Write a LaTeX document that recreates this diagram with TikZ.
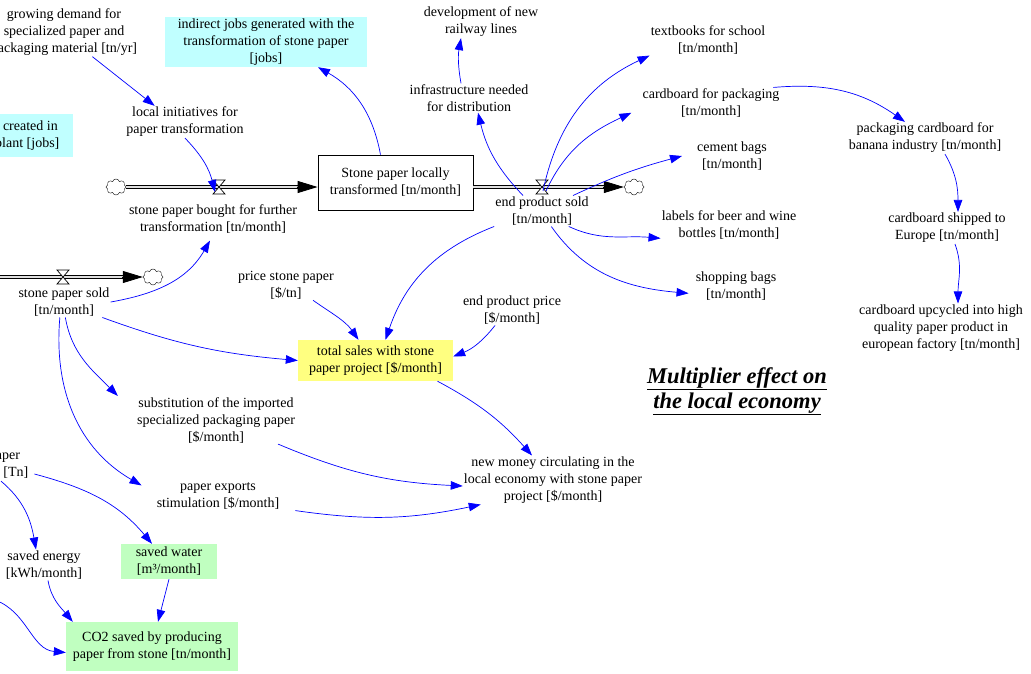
\documentclass[tikz,border=0pt]{standalone}
\usepackage{fontspec}
\setmainfont{Liberation Serif}
\usepackage{xcolor}
\usepackage{tikz}
\usetikzlibrary{shapes,shapes.symbols,arrows.meta,positioning,calc}

\definecolor{jobcyan}{RGB}{192,255,255}
\definecolor{salesyellow}{RGB}{255,255,128}
\definecolor{savegreen}{RGB}{192,255,192}

\begin{document}
\begin{tikzpicture}[x=1pt, y=-1pt,
    var/.style={align=center, inner sep=1pt, font=\fontsize{14}{17}\selectfont},
    stockbox/.style={var, draw, line width=0.8pt, minimum width=155, minimum height=55},
    headline/.style={align=center, font=\fontsize{22.5}{25}\selectfont\bfseries\itshape},
    cloudy/.style={cloud, draw, cloud puffs=8, aspect=1.3, minimum width=20pt, minimum height=16pt, inner sep=0pt},
    pipe/.style={double=gray!25, double distance=1.6pt, line width=0.9pt},
    flowhead/.style={-{Triangle[length=20pt,width=12pt]}, line width=0.8pt},
    lnk/.style={blue, line width=0.7pt, -{Triangle[length=12pt,width=8.5pt]}}]
        \useasboundingbox (0,0) rectangle (1031,673);

        % Variables
        \node[var] (demand) at (64,32) {growing demand for\\specialized paper and\\packaging material [tn/yr]};
        \node[var, fill=jobcyan, minimum width=202, minimum height=50] (indjobs) at (266,42) {indirect jobs generated with the\\transformation of stone paper\\{}[jobs]};
        \node[var, fill=jobcyan, minimum width=112, minimum height=43] (dirjobs) at (17,135.5) {jobs created in\\the plant [jobs]};
        \node[var] (local) at (185,122) {local initiatives for\\paper transformation};
        \node[stockbox] (stock) at (395.5,182.5) {Stone paper locally\\transformed [tn/month]};
        \node[var] (buy) at (213,219) {stone paper bought for further\\transformation [tn/month]};
        \node[var] (railway) at (481,22) {development of new\\railway lines};
        \node[var] (infra) at (469,98) {infrastructure needed\\for distribution};
        \node[var] (sold) at (542,211) {end product sold\\{}[tn/month]};
        \node[var] (textbooks) at (708,40) {textbooks for school\\{}[tn/month]};
        \node[var] (cardpack) at (711,103) {cardboard for packaging\\{}[tn/month]};
        \node[var] (cement) at (732,156) {cement bags\\{}[tn/month]};
        \node[var] (labels) at (729,225) {labels for beer and wine\\bottles [tn/month]};
        \node[var] (shopping) at (736,286) {shopping bags\\{}[tn/month]};
        \node[var] (banana) at (925,138) {packaging cardboard for\\banana industry [tn/month]};
        \node[var] (shipped) at (947,228) {cardboard shipped to\\Europe [tn/month]};
        \node[var] (upcycled) at (941,328) {cardboard upcycled into high\\quality paper product in\\european factory [tn/month]};
        \node[headline] (mult) at (737,391) {\underline{Multiplier effect on}\\\underline{the local economy}};
        \node[var] (spsold) at (64,302) {stone paper sold\\{}[tn/month]};
        \node[var] (price) at (286,285) {price stone paper\\{}[\$/tn]};
        \node[var] (endprice) at (512,310) {end product price\\{}[\$/month]};
        \node[var, fill=salesyellow, minimum width=155, minimum height=41] (total) at (375.5,360.5) {total sales with stone\\paper project [\$/month]};
        \node[var] (subst) at (216,420) {substitution of the imported\\specialized packaging paper\\{}[\$/month]};
        \node[var] (newmoney) at (553,480) {new money circulating in the\\local economy with stone paper\\project [\$/month]};
        \node[var] (exports) at (218,496) {paper exports\\stimulation [\$/month]};
        \node[var] (tn) at (-12,466) {stone paper\\produced [Tn]};
        \node[var] (energy) at (44,565) {saved energy\\{}[kWh/month]};
        \node[var, fill=savegreen, minimum width=96, minimum height=35] (water) at (169,561.5) {saved water\\{}[m³/month]};
        \node[var, fill=savegreen, minimum width=172, minimum height=49] (co2) at (152,646.5) {CO2 saved by producing\\paper from stone [tn/month]};

        % Flows
        \coordinate (v1) at (219,187);
        \coordinate (v2) at (542,187);
        \coordinate (v3) at (63,277);
        \coordinate (leftin) at (-20,277);
        \coordinate (co2in) at (-5,600);
        \node[cloudy] (c1) at (116,187) {};
        \node[cloudy] (c2) at (634,187) {};
        \node[cloudy] (c3) at (153,277) {};
        \coordinate (s1) at (stock.west |- c1);
        \coordinate (s2) at (stock.east |- c2);

        \draw[pipe] (c1.east) -- ([xshift=-18]s1);
        \draw[flowhead] ([xshift=-21]s1) -- (s1);
        \draw[pipe] (s2) -- ([xshift=-18]c2.west);
        \draw[flowhead] ([xshift=-21]c2.west) -- (c2.west);
        \draw[pipe] (leftin) -- ([xshift=-18]c3.west);
        \draw[flowhead] ([xshift=-21]c3.west) -- (c3.west);

        % Valves
        \foreach \v in {v1,v2,v3} {
            \draw[line width=0.7pt, fill=white] ([shift={(-6,-7)}]\v) -- ([shift={(6,-7)}]\v) -- ([shift={(-6,7)}]\v) -- ([shift={(6,7)}]\v) -- cycle;
        }

        % Links
        \draw[lnk] (demand.-41) -- (local.152);
        \draw[lnk] (local.south) to[bend left=15] ([shift={(-4,5)}]v1);
        \draw[lnk] ([xshift=-15]stock.north) to[bend right=25] ([xshift=52]indjobs.south);
        \draw[lnk] ([xshift=-19]sold.north) to[bend left=15] ([xshift=9]infra.south);
        \draw[lnk] ([xshift=-8]infra.north) to[bend left=10] ([xshift=-20]railway.south);
        \draw[lnk] ([shift={(1,4)}]v2) to[out=78, in=205] (textbooks.south west);
        \draw[lnk] ([shift={(4,4)}]v2) to[out=65, in=205] ([xshift=-10]cardpack.188);
        \draw[lnk] ([xshift=31]sold.north) to[out=25, in=195] ([xshift=-14]cement.west);
        \draw[lnk] (sold.-30) to[out=-25, in=175] (labels.191);
        \draw[lnk] (sold.-59) to[out=-55, in=175] ([xshift=-6]shopping.190);
        \draw[lnk] (sold.south west) to[bend right=25] ([xshift=10]total.north);
        \draw[lnk] (cardpack.14) to[out=5, in=145] ([xshift=-20]banana.north);
        \draw[lnk] ([xshift=20]banana.south) to[out=-60, in=90] ([xshift=11]shipped.north);
        \draw[lnk] ([xshift=8]shipped.south) to[out=-70, in=90] ([xshift=17]upcycled.north);
        \draw[lnk] (spsold.east) to[out=10, in=-120] ([shift={(-3,6)}]buy.south);
        \draw[lnk] (spsold.-22) to[out=-20, in=175] (total.west);
        \draw[lnk] (spsold.-85) to[out=-80, in=135] ([xshift=-18]subst.north west);
        \draw[lnk] (spsold.-105) to[out=-95, in=150] ([shift={(-14,4)}]exports.north west);
        \draw[lnk] ([xshift=27]price.south) to[out=-35, in=125] ([xshift=-17]total.north);
        \draw[lnk] ([xshift=-17]endprice.south) to[bend left=15] ([yshift=4]total.east);
        \draw[lnk] ([xshift=62]total.south) to[bend left=10] ([xshift=-21]newmoney.north);
        \draw[lnk] ([xshift=62]subst.south) to[bend right=10] ([yshift=-6]newmoney.west);
        \draw[lnk] ([xshift=15]exports.south east) to[bend right=10] ([xshift=18]newmoney.south west);
        \draw[lnk] ([xshift=13]tn.south) to[out=-40, in=100] ([xshift=-8]energy.north);
        \draw[lnk] ([shift={(5,8)}]tn.east) to[out=-15, in=130] ([xshift=-17]water.north);
        \draw[lnk] ([xshift=4]energy.south) to[out=-80, in=130] ([xshift=7]co2.north west);
        \draw[lnk] (water.south) -- ([xshift=6]co2.north);
        \draw[lnk] (co2in) to[out=-20, in=175] ([yshift=-6]co2.west);
\end{tikzpicture}
\end{document}
